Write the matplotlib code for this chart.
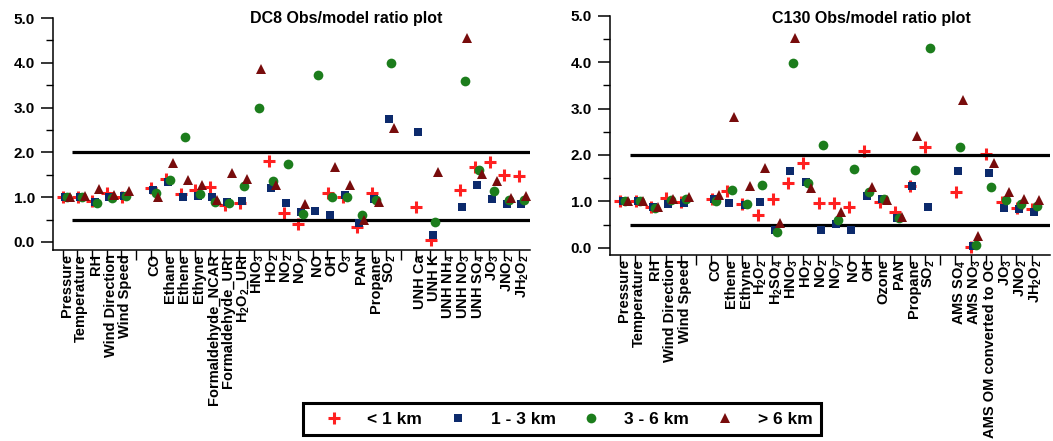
import numpy as np
import matplotlib
matplotlib.use('Agg')
import matplotlib.pyplot as plt
from matplotlib.lines import Line2D
from matplotlib.ticker import FixedLocator, MultipleLocator, FormatStrFormatter

plt.rcParams['font.family'] = ['Liberation Sans', 'DejaVu Sans']
plt.rcParams['mathtext.fontset'] = 'custom'
plt.rcParams['mathtext.rm'] = 'Liberation Sans:bold'
plt.rcParams['mathtext.it'] = 'Liberation Sans:bold:italic'
plt.rcParams['mathtext.bf'] = 'Liberation Sans:bold'

nan = np.nan

# ---------------- DC8 ----------------
dc8_labels = ['Pressure', 'Temperature', 'RH', 'Wind Direction', 'Wind Speed', '',
              'CO', 'Ethane', 'Ethene', 'Ethyne', 'Formaldehyde_NCAR', 'Formaldehyde_URI',
              'H$_2$O$_2$_URI', 'HNO$_3$', 'HO$_2$', 'NO$_2$', 'NO$_y$', 'NO', 'OH', 'O$_3$',
              'PAN', 'Propane', 'SO$_2$', '',
              'UNH Ca', 'UNH K', 'UNH NH$_4$', 'UNH NO$_3$', 'UNH SO$_4$', 'JO$_3$', 'JNO$_2$',
              'JH$_2$O$_2$']
dc8_lt1 = [1.00, 1.00, 0.92, 1.10, 1.00, nan,
           1.20, 1.41, 1.08, 1.17, 1.23, 0.82, 0.88, nan, 1.81, 0.65, 0.40, nan, 1.10, 1.01,
           0.34, 1.09, nan, nan,
           0.77, 0.05, nan, 1.17, 1.68, 1.79, 1.50, 1.47]
dc8_1to3 = [1.00, 1.00, 0.90, 1.01, 1.02, nan,
            1.15, 1.33, 1.01, 1.03, 1.01, 0.90, 0.92, nan, 1.20, 0.86, 0.66, 0.70, 0.60, 1.05,
            0.42, 0.95, 2.75, nan,
            2.45, 0.16, nan, 0.77, 1.27, 0.96, 0.84, 0.85]
dc8_3to6 = [1.00, 1.00, 0.88, 0.97, 1.02, nan,
            1.10, 1.38, 2.35, 1.07, 0.90, 0.87, 1.24, 3.00, 1.35, 1.75, 0.63, 3.72, 1.01, 1.00,
            0.60, 0.93, 3.99, nan,
            nan, 0.45, nan, 3.60, 1.60, 1.14, 0.94, 0.94]
dc8_gt6 = [1.00, 1.02, 1.18, 1.05, 1.13, nan,
           1.00, 1.76, 1.38, 1.27, 0.94, 1.55, 1.40, 3.86, 1.27, nan, 0.85, nan, 1.68, 1.27,
           0.49, 0.90, 2.55, nan,
           nan, 1.57, nan, 4.55, 1.52, 1.36, 0.99, 1.03]

# ---------------- C130 ----------------
c130_labels = ['Pressure', 'Temperature', 'RH', 'Wind Direction', 'Wind Speed', '',
               'CO', 'Ethene', 'Ethyne', 'H$_2$O$_2$', 'H$_2$SO$_4$', 'HNO$_3$', 'HO$_2$',
               'NO$_2$', 'NO$_y$', 'NO', 'OH', 'Ozone', 'PAN', 'Propane', 'SO$_2$', '',
               'AMS SO$_4$', 'AMS NO$_3$', 'AMS OM converted to OC', 'JO$_3$', 'JNO$_2$',
               'JH$_2$O$_2$']
c130_lt1 = [1.00, 1.00, 0.88, 1.08, 0.99, nan,
            1.05, 1.22, 0.94, 0.70, 1.06, 1.40, 1.82, 0.97, 0.96, 0.88, 2.08, 0.99, 0.78,
            1.33, 2.18, nan,
            1.19, 0.02, 2.01, 0.99, 0.85, 0.83]
c130_1to3 = [1.00, 1.00, 0.88, 0.94, 0.97, nan,
             1.05, 0.96, 0.93, 0.99, 0.38, 1.66, 1.42, 0.38, 0.51, 0.38, 1.11, 1.06, 0.63,
             1.34, 0.88, nan,
             1.66, 0.04, 1.60, 0.86, 0.83, 0.78]
c130_3to6 = [1.00, 1.00, 0.86, 1.02, 1.06, nan,
             1.00, 1.24, 0.95, 1.36, 0.34, 3.97, 1.40, 2.21, 0.60, 1.70, 1.19, 1.04, 0.63,
             1.67, 4.30, nan,
             2.18, 0.06, 1.31, 1.03, 0.94, 0.90]
c130_gt6 = [1.00, 1.00, 0.88, 1.04, 1.09, nan,
            1.13, 2.82, 1.32, 1.71, 0.54, 4.51, 1.28, nan, 0.78, nan, 1.31, 1.03, 0.67,
            2.41, nan, nan,
            3.18, 0.25, 1.82, 1.19, 1.06, 1.03]

series_names = ['< 1 km', '1 - 3 km', '3 - 6 km', '> 6 km']
ref_lines = [0.5, 2.0]

styles = [dict(marker='+', ms=8.5, mew=2.2, color='#ff2020', zorder=2),
          dict(marker='s', ms=6, mew=0, color='#0c2a6c', zorder=3),
          dict(marker='o', ms=7, mew=0, color='#1c7d1c', zorder=3.1),
          dict(marker='^', ms=7.2, mew=0, color='#780c0c', zorder=3.2)]
offsets = [-0.24, -0.09, 0.06, 0.24]

W, H = 1053, 441
fig = plt.figure(figsize=(W / 100, H / 100), dpi=100)


def panel(rect, labels, series, xlim, ylim, title, title_xy):
    ax = fig.add_axes(rect)
    x = np.arange(len(labels))
    for s, st, off in zip(series, styles, offsets):
        ax.plot(x + off, s, linestyle='none', **st)
    ax.hlines(ref_lines, 0.4, xlim[1], colors='black', linewidth=2.3, zorder=2.5)
    ax.set_xlim(*xlim)
    ax.set_ylim(*ylim)
    for sp in ['top', 'right']:
        ax.spines[sp].set_visible(False)
    for sp in ['left', 'bottom']:
        ax.spines[sp].set_linewidth(1.1)
    ax.xaxis.set_major_locator(FixedLocator(x))
    ax.set_xticklabels(labels, rotation=90, fontsize=10.5, fontweight='bold')
    ax.xaxis.set_minor_locator(FixedLocator(x - 0.27))
    ax.tick_params(axis='x', which='major', length=0, pad=3)
    ax.tick_params(axis='x', which='minor', length=7, width=1.0, direction='out')
    ax.yaxis.set_major_locator(MultipleLocator(1.0))
    ax.yaxis.set_minor_locator(MultipleLocator(0.5))
    ax.yaxis.set_major_formatter(FormatStrFormatter('%.1f'))
    ax.tick_params(axis='y', which='major', length=9, width=1.1, pad=4, labelsize=11)
    ax.tick_params(axis='y', which='minor', length=5, width=1.0)
    for t in ax.get_yticklabels():
        t.set_fontweight('bold')
    fig.text(title_xy[0] / W, 1 - title_xy[1] / H, title, ha='center', va='center',
             fontsize=11.5, fontweight='bold')
    return ax


panel([53 / W, 1 - 250 / H, 477 / W, 232 / H], dc8_labels,
      [dc8_lt1, dc8_1to3, dc8_3to6, dc8_gt6], (-0.92, 31.5), (-0.18, 5.0),
      'DC8 Obs/model ratio plot', (346.5, 19))
panel([610 / W, 1 - 255 / H, 440 / W, 239.3 / H], c130_labels,
      [c130_lt1, c130_1to3, c130_3to6, c130_gt6], (-0.92, 27.93), (-0.157, 5.0),
      'C130 Obs/model ratio plot', (871, 18))

handles = [Line2D([], [], linestyle='none', **st) for st in styles]
leg = fig.legend(handles, series_names, loc='center', bbox_to_anchor=(562 / W, 1 - 419 / H),
                 ncol=4, frameon=True, fancybox=False, edgecolor='black', framealpha=1,
                 prop={'weight': 'bold', 'size': 12.5}, handlelength=2.6, handletextpad=0.6,
                 columnspacing=0.75, borderpad=0.5)
leg.get_frame().set_linewidth(2.2)

fig.savefig('out.png', dpi=100)
